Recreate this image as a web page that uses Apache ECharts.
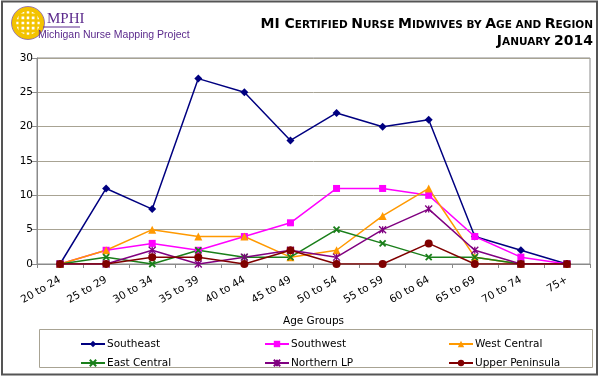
<!DOCTYPE html>
<html>
<head>
<meta charset="utf-8">
<script src="https://cdn.jsdelivr.net/npm/echarts@6/dist/echarts.min.js"></script>
<style>
html,body{margin:0;padding:0;background:#fff;}
#chart{width:600px;height:378px;}
</style>
</head>
<body>
<div id="chart"></div>
<script>
var categories = ['20 to 24','25 to 29','30 to 34','35 to 39','40 to 44','45 to 49','50 to 54','55 to 59','60 to 64','65 to 69','70 to 74','75+'];
var southeast = [0, 11, 8, 27, 25, 18, 22, 20, 21, 4, 2, 0];
var southwest = [0, 2, 3, 2, 4, 6, 11, 11, 10, 4, 1, 0];
var westCentral = [0, 2, 5, 4, 4, 1, 2, 7, 11, 1, 0, 0];
var eastCentral = [0, 1, 0, 2, 1, 1, 5, 3, 1, 1, 0, 0];
var northernLP = [0, 0, 2, 0, 1, 2, 1, 5, 8, 2, 0, 0];
var upperPeninsula = [0, 0, 1, 1, 0, 2, 0, 0, 3, 0, 0, 0];
var seriesNames = ['Southeast','Southwest','West Central','East Central','Northern LP','Upper Peninsula'];
var yTicks = [0, 5, 10, 15, 20, 25, 30];

var FONT = '"DejaVu Sans", Verdana, sans-serif';
var chart = echarts.init(document.getElementById('chart'), null, {renderer: 'canvas'});

function mkSeries(name, data, color, symbol, size, extra) {
  var s = {
    name: name, type: 'line', data: data,
    symbol: symbol, symbolSize: size,
    lineStyle: {color: color, width: 1.5},
    itemStyle: {color: color},
    emphasis: {disabled: true},
    z: 2
  };
  if (extra) { s.itemStyle.borderColor = color; s.itemStyle.borderWidth = extra; }
  return s;
}
var xPath = 'path://M0 0L10 10M10 0L0 10';
var starPath = 'path://M0 0L10 10M10 0L0 10M5 0L5 10';

var legendCommon = {
  orient: 'vertical', top: 333, itemGap: 7, itemWidth: 24, itemHeight: 8,
  textStyle: {fontFamily: FONT, fontSize: 10.5, color: '#000', lineHeight: 12, padding: [0,0,0,-3]}
};
var Y = '#f3c300', P = '#5b2a8c';

var option = {
  animation: false,
  backgroundColor: '#fff',
  grid: {left: 37, top: 58, right: 10, bottom: 114, show: true, borderColor: '#8a8a8a', borderWidth: 1},
  xAxis: {
    type: 'category', data: categories, boundaryGap: true,
    axisLine: {lineStyle: {color: '#8a8a8a', width: 1}},
    axisTick: {show: true, length: 4, lineStyle: {color: '#8a8a8a'}},
    axisLabel: {interval: 0, rotate: 30, fontFamily: FONT, fontSize: 10.5, color: '#000', margin: 15},
    name: 'Age Groups', nameLocation: 'middle', nameGap: 52,
    nameTextStyle: {fontFamily: FONT, fontSize: 10.5, color: '#000'}
  },
  yAxis: {
    type: 'value', min: 0, max: 30, interval: 5,
    axisLine: {show: true, lineStyle: {color: '#8a8a8a'}},
    axisTick: {show: true, length: 5, lineStyle: {color: '#8a8a8a'}},
    axisLabel: {fontFamily: FONT, fontSize: 10.5, color: '#000', margin: 4,
      formatter: function(v){ return yTicks.indexOf(v) >= 0 ? String(v) : ''; }},
    splitLine: {lineStyle: {color: '#a8a393', width: 1}}
  },
  legend: [
    Object.assign({left: 75, data: [seriesNames[0], seriesNames[3]]}, legendCommon),
    Object.assign({left: 259, data: [seriesNames[1], seriesNames[4]]}, legendCommon),
    Object.assign({left: 443, data: [seriesNames[2], seriesNames[5]]}, legendCommon)
  ],
  series: [
    mkSeries(seriesNames[0], southeast, '#000080', 'diamond', 8),
    mkSeries(seriesNames[1], southwest, '#ff00ff', 'rect', 7),
    mkSeries(seriesNames[2], westCentral, '#ff9900', 'triangle', 8),
    mkSeries(seriesNames[3], eastCentral, '#1a7f1a', xPath, 6, 1.8),
    mkSeries(seriesNames[4], northernLP, '#800080', starPath, 7, 1.3),
    mkSeries(seriesNames[5], upperPeninsula, '#800000', 'circle', 8)
  ],
  graphic: [
    {type: 'rect', shape: {x: 2, y: 1.5, width: 595, height: 373}, style: {fill: 'none', stroke: '#555', lineWidth: 2}, silent: true},
    {type: 'rect', shape: {x: 39.5, y: 329.5, width: 553, height: 38}, style: {fill: 'none', stroke: '#a8a393', lineWidth: 1}, silent: true},
    // logo
    {type: 'circle', shape: {cx: 28, cy: 23, r: 14}, style: {fill: 'none', stroke: Y, lineWidth: 4.5}, silent: true},
    {type: 'circle', shape: {cx: 28, cy: 23, r: 16.5}, style: {fill: 'none', stroke: P, lineWidth: 0.6}, silent: true},
    {type: 'rect', shape: {x: 20, y: 15, width: 16, height: 16}, style: {fill: 'none', stroke: Y, lineWidth: 3}, silent: true},
    {type: 'line', shape: {x1: 25.5, y1: 11, x2: 25.5, y2: 35}, style: {stroke: Y, lineWidth: 2.5}, silent: true},
    {type: 'line', shape: {x1: 30.5, y1: 11, x2: 30.5, y2: 35}, style: {stroke: Y, lineWidth: 2.5}, silent: true},
    {type: 'line', shape: {x1: 16, y1: 20.5, x2: 40, y2: 20.5}, style: {stroke: Y, lineWidth: 2.5}, silent: true},
    {type: 'line', shape: {x1: 16, y1: 25.5, x2: 40, y2: 25.5}, style: {stroke: Y, lineWidth: 2.5}, silent: true},
    {type: 'text', left: 47, top: 12, style: {text: 'MPHI', fontFamily: '"Liberation Serif", serif', fontSize: 15, fill: P}, silent: true},
    {type: 'line', shape: {x1: 43, y1: 27, x2: 80, y2: 27}, style: {stroke: P, lineWidth: 1}, silent: true},
    {type: 'text', left: 38, top: 30, style: {text: 'Michigan Nurse Mapping Project', fontFamily: '"Liberation Sans", Arial, sans-serif', fontSize: 10.5, fill: P}, silent: true},
    // title
    {type: 'text', right: 7, top: 17, style: {
      text: '{b|MI C}{s|ERTIFIED }{b|N}{s|URSE }{b|M}{s|IDWIVES BY }{b|A}{s|GE AND }{b|R}{s|EGION}',
      rich: {
        b: {fontFamily: FONT, fontWeight: 'bold', fontSize: 14, fill: '#000', verticalAlign: 'bottom', lineHeight: 15},
        s: {fontFamily: FONT, fontWeight: 'bold', fontSize: 10.5, fill: '#000', verticalAlign: 'bottom', lineHeight: 15}
      }}, silent: true},
    {type: 'text', right: 7, top: 34, style: {
      text: '{b|J}{s|ANUARY }{b|2014}',
      rich: {
        b: {fontFamily: FONT, fontWeight: 'bold', fontSize: 14, fill: '#000', verticalAlign: 'bottom', lineHeight: 15},
        s: {fontFamily: FONT, fontWeight: 'bold', fontSize: 10.5, fill: '#000', verticalAlign: 'bottom', lineHeight: 15}
      }}, silent: true}
  ]
};
chart.setOption(option);
</script>
</body>
</html>
